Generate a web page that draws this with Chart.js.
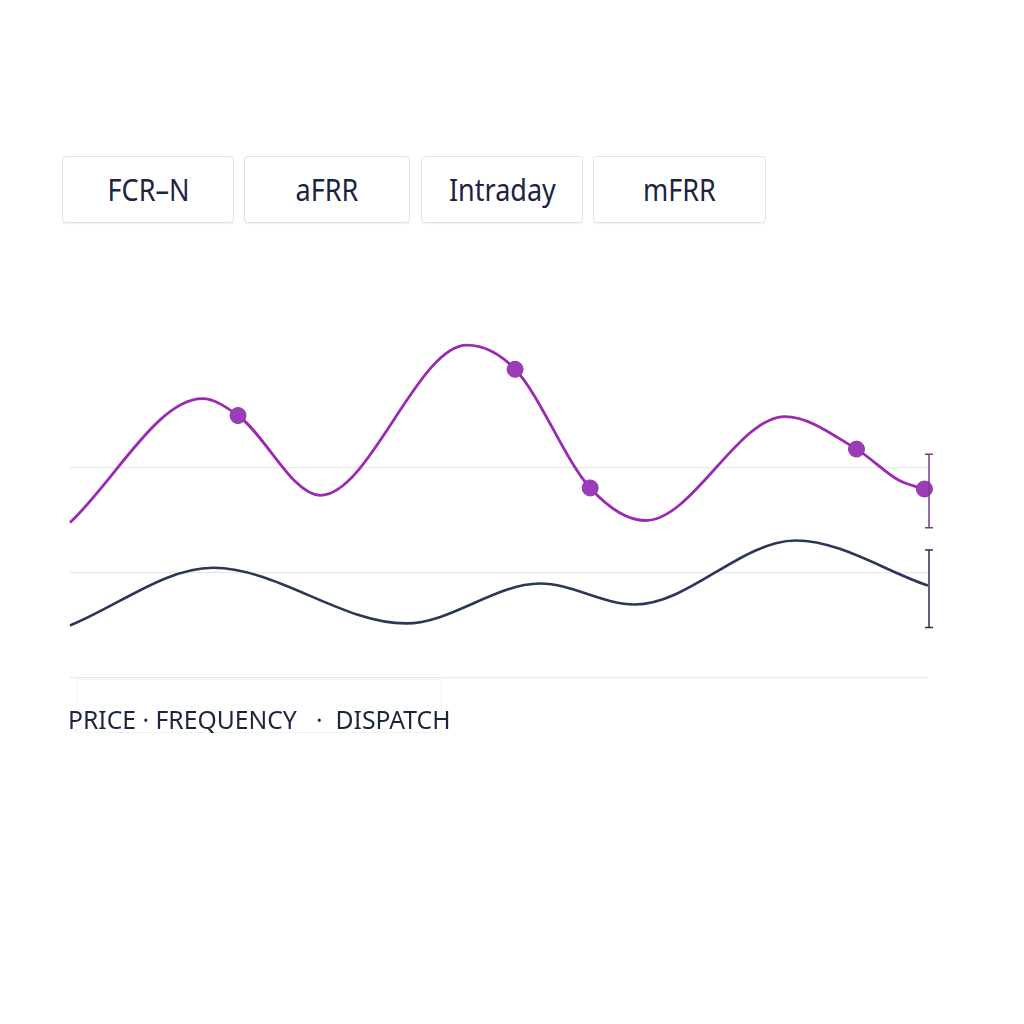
<!DOCTYPE html>
<html lang="en">
<head>
<meta charset="UTF-8">
<title>Balancing markets</title>
<script src="https://cdn.jsdelivr.net/npm/chart.js"></script>
<style>
    body {
        margin: 0;
        width: 1024px;
        height: 1024px;
        background: #ffffff;
        position: relative;
        font-family: "Noto Sans", "Open Sans", sans-serif;
        color: #1b2440;
    }
    /* market tabs */
    .tab {
        position: absolute;
        top: 156px;
        height: 67px;
        border: 1px solid #e2e2e6;
        border-radius: 4px;
        box-shadow: 0 1px 2px rgba(0, 0, 0, 0.06);
        font-size: 30px;
        line-height: 65px;
        text-align: center;
        box-sizing: border-box;
    }
    .tab span {
        display: inline-block;
        transform: scaleX(0.9);
    }
    #chartBox {
        position: absolute;
        left: 0;
        top: 280px;
        width: 1024px;
        height: 420px;
    }
    .caption {
        position: absolute;
        left: 68px;
        top: 701px;
        font-size: 26px;
        white-space: pre;
        transform: scaleX(0.95);
        transform-origin: left center;
    }
    .caption-bg {
        position: absolute;
        left: 76px;
        top: 679px;
        width: 366px;
        height: 54px;
        border: 1px solid #f3f3f5;
        box-sizing: border-box;
    }
</style>
</head>
<body>
    <div class="tab" style="left:62px; width:172px;"><span>FCR–N</span></div>
    <div class="tab" style="left:244px; width:166px;"><span>aFRR</span></div>
    <div class="tab" style="left:421px; width:162px;"><span>Intraday</span></div>
    <div class="tab" style="left:593px; width:173px;"><span>mFRR</span></div>

    <div id="chartBox"><canvas id="chart"></canvas></div>

    <div class="caption-bg"></div>
    <div class="caption">PRICE · FREQUENCY   ·  DISPATCH</div>

<script>
    // hour of day / value pairs
    const priceHours = [0, 3.7, 4.7, 7.0, 11.1, 12.45, 14.55, 16.1, 20.0, 22.0, 23.2, 23.9];
    const priceValues = [1.48, 2.66, 2.50, 1.74, 3.17, 2.94, 1.81, 1.50, 2.49, 2.18, 1.88, 1.80];
    const priceMarkers = [0, 0, 1, 0, 0, 1, 1, 0, 0, 1, 0, 1];

    const freqHours = [0, 4.0, 9.4, 13.15, 15.8, 20.3, 24];
    const freqValues = [0.50, 1.05, 0.52, 0.90, 0.70, 1.31, 0.88];

    // range whiskers at the last hour
    const rangeHour = 24;
    const priceRange = [1.43, 2.13];
    const freqRange = [0.48, 1.22];

    const gridTicks = [0, 1, 2];

    const purple = '#9a2bb0';
    const navy = '#2b3659';

    const toPoints = (xs, ys) => xs.map((x, i) => ({ x: x, y: ys[i] }));

    const whiskers = {
        id: 'whiskers',
        afterDatasetsDraw(chart) {
            const ctx = chart.ctx;
            const xs = chart.scales.x;
            const ys = chart.scales.y;
            const draw = (range, color) => {
                const x = xs.getPixelForValue(rangeHour) + 1;
                const y0 = ys.getPixelForValue(range[0]);
                const y1 = ys.getPixelForValue(range[1]);
                ctx.save();
                ctx.strokeStyle = color;
                ctx.lineWidth = 1.5;
                ctx.beginPath();
                ctx.moveTo(x, y0); ctx.lineTo(x, y1);
                ctx.moveTo(x - 4, y0); ctx.lineTo(x + 4, y0);
                ctx.moveTo(x - 4, y1); ctx.lineTo(x + 4, y1);
                ctx.stroke();
                ctx.restore();
            };
            draw(priceRange, '#7a3a8c');
            draw(freqRange, '#2b3150');
        }
    };

    new Chart(document.getElementById('chart'), {
        type: 'line',
        data: {
            datasets: [
                {
                    label: 'Price',
                    data: toPoints(priceHours, priceValues),
                    borderColor: purple,
                    borderWidth: 2.8,
                    cubicInterpolationMode: 'monotone',
                    pointRadius: priceMarkers.map(m => m ? 8 : 0),
                    pointBackgroundColor: '#9b3db6',
                    pointBorderColor: '#8f35aa',
                    pointBorderWidth: 1,
                    fill: false,
                    clip: false,
                },
                {
                    label: 'Frequency',
                    data: toPoints(freqHours, freqValues),
                    borderColor: navy,
                    borderWidth: 2.6,
                    cubicInterpolationMode: 'monotone',
                    pointRadius: 0,
                    fill: false,
                    clip: false,
                },
            ],
        },
        plugins: [whiskers],
        options: {
            responsive: true,
            maintainAspectRatio: false,
            animation: false,
            layout: {
                padding: { left: 70, right: 96, top: 20, bottom: 22 }
            },
            plugins: {
                legend: { display: false },
                tooltip: { enabled: false },
            },
            scales: {
                x: {
                    type: 'linear',
                    min: 0,
                    max: 24,
                    display: false,
                },
                y: {
                    min: 0,
                    max: 3.6,
                    afterBuildTicks: axis => {
                        axis.ticks = gridTicks.map(v => ({ value: v }));
                    },
                    border: { display: false },
                    ticks: { display: false },
                    grid: {
                        color: '#e8e8ec',
                        lineWidth: 1.2,
                        drawTicks: false,
                    },
                },
            },
        },
    });
</script>
</body>
</html>
